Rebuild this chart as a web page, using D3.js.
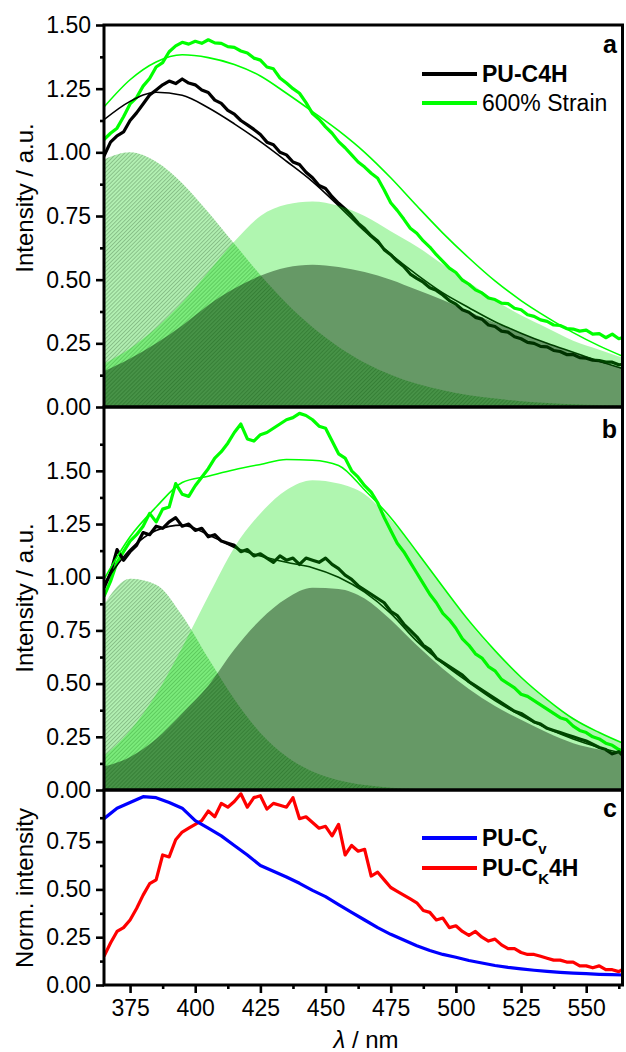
<!DOCTYPE html>
<meta charset="utf-8">
<style>
  body { margin: 0; background: #fff; }
  svg { display: block; font-family: "Liberation Sans", Arial, sans-serif; }
</style>
<svg id="chart" width="626" height="1052"></svg>
<script src="https://cdn.jsdelivr.net/npm/d3@7/dist/d3.min.js"></script>
<script>
// sampling grids (nm)
var fitWl = d3.range(365, 565.1, 10);
var rawWl = d3.range(365, 565.1, 2.5);
var blueWl = d3.range(365, 565.1, 5);

// panel a: fitted peaks and fits (10 nm grid)
var aPeakUV = [0.972, 1.0, 0.963, 0.879, 0.765, 0.641, 0.518, 0.407, 0.313, 0.236, 0.174, 0.127, 0.091, 0.066, 0.046, 0.033, 0.023, 0.016, 0.011, 0.008, 0.005];
var aPeakStrain = [0.17, 0.23, 0.31, 0.41, 0.53, 0.65, 0.75, 0.795, 0.807, 0.79, 0.75, 0.69, 0.63, 0.56, 0.49, 0.42, 0.36, 0.31, 0.26, 0.225, 0.19];
var aPeakRelax = [0.14, 0.19, 0.25, 0.32, 0.40, 0.465, 0.515, 0.548, 0.559, 0.55, 0.53, 0.50, 0.46, 0.42, 0.375, 0.33, 0.29, 0.25, 0.213, 0.18, 0.148];
var aFitBlack = [1.128, 1.20, 1.236, 1.224, 1.175, 1.112, 1.042, 0.965, 0.885, 0.79, 0.69, 0.60, 0.52, 0.448, 0.39, 0.335, 0.29, 0.25, 0.215, 0.18, 0.148];
var aFitGreen = [1.178, 1.285, 1.355, 1.383, 1.372, 1.345, 1.30, 1.232, 1.16, 1.085, 1.0, 0.90, 0.79, 0.683, 0.585, 0.495, 0.418, 0.352, 0.292, 0.24, 0.195];

// panel a: measured spectra (2.5 nm grid)
var aBlack = [0.985, 1.04, 1.065, 1.08, 1.125, 1.155, 1.19, 1.225, 1.245, 1.265, 1.28, 1.27, 1.288, 1.272, 1.265, 1.245, 1.235, 1.205, 1.192, 1.165,
  1.15, 1.125, 1.108, 1.09, 1.07, 1.04, 1.03, 1.0, 0.99, 0.962, 0.952, 0.922, 0.9, 0.87, 0.858, 0.826, 0.8, 0.778, 0.752, 0.722,
  0.7, 0.672, 0.652, 0.618, 0.598, 0.572, 0.552, 0.522, 0.505, 0.49, 0.468, 0.458, 0.44, 0.418, 0.404, 0.382, 0.372, 0.352, 0.345, 0.322,
  0.316, 0.298, 0.294, 0.276, 0.268, 0.254, 0.25, 0.238, 0.236, 0.222, 0.218, 0.206, 0.206, 0.194, 0.192, 0.184, 0.182, 0.176, 0.176, 0.166, 0.168];
var aGreen = [1.05, 1.075, 1.095, 1.14, 1.19, 1.215, 1.26, 1.29, 1.335, 1.352, 1.395, 1.418, 1.432, 1.425, 1.436, 1.428, 1.442, 1.43, 1.428, 1.415,
  1.412, 1.398, 1.39, 1.37, 1.362, 1.335, 1.328, 1.292, 1.272, 1.25, 1.232, 1.195, 1.152, 1.13, 1.1, 1.075, 1.042, 1.018, 0.99, 0.962,
  0.942, 0.918, 0.898, 0.852, 0.802, 0.772, 0.738, 0.702, 0.682, 0.652, 0.628, 0.598, 0.572, 0.545, 0.528, 0.498, 0.482, 0.46, 0.448, 0.428,
  0.422, 0.408, 0.406, 0.388, 0.382, 0.362, 0.356, 0.342, 0.336, 0.322, 0.32, 0.308, 0.306, 0.298, 0.302, 0.286, 0.288, 0.272, 0.286, 0.268, 0.276];

// panel b: fitted peaks and fits (10 nm grid)
var bPeakUV = [0.872, 0.993, 0.965, 0.82, 0.619, 0.426, 0.268, 0.157, 0.087, 0.046, 0.023, 0.011, 0.005, 0.002, 0.001, 0, 0, 0, 0, 0, 0];
var bPeakStrain = [0.16, 0.28, 0.45, 0.67, 0.91, 1.14, 1.30, 1.41, 1.456, 1.44, 1.39, 1.27, 1.12, 0.955, 0.79, 0.65, 0.53, 0.42, 0.34, 0.27, 0.215];
var bPeakRelax = [0.11, 0.155, 0.24, 0.36, 0.49, 0.66, 0.80, 0.90, 0.95, 0.945, 0.90, 0.80, 0.68, 0.57, 0.475, 0.395, 0.33, 0.27, 0.22, 0.19, 0.165];
var bFitBlack = [0.97, 1.13, 1.22, 1.245, 1.20, 1.14, 1.10, 1.07, 1.045, 1.00, 0.93, 0.83, 0.70, 0.595, 0.505, 0.42, 0.35, 0.29, 0.24, 0.20, 0.17];
var bFitGreen = [0.99, 1.19, 1.33, 1.445, 1.475, 1.505, 1.53, 1.553, 1.55, 1.525, 1.41, 1.28, 1.12, 0.955, 0.795, 0.655, 0.53, 0.425, 0.335, 0.27, 0.215];

// panel b: measured spectra (2.5 nm grid)
var bBlack = [0.95, 1.02, 1.13, 1.08, 1.12, 1.15, 1.21, 1.20, 1.24, 1.23, 1.26, 1.28, 1.24, 1.25, 1.22, 1.23, 1.19, 1.20, 1.17, 1.16,
  1.15, 1.12, 1.13, 1.10, 1.11, 1.09, 1.07, 1.10, 1.08, 1.09, 1.06, 1.09, 1.08, 1.07, 1.09, 1.06, 1.04, 1.01, 0.99, 0.96,
  0.94, 0.92, 0.90, 0.88, 0.84, 0.82, 0.78, 0.75, 0.72, 0.68, 0.66, 0.62, 0.60, 0.58, 0.56, 0.54, 0.51, 0.49, 0.47, 0.45,
  0.43, 0.41, 0.39, 0.37, 0.36, 0.34, 0.32, 0.31, 0.29, 0.28, 0.27, 0.26, 0.25, 0.24, 0.23, 0.215, 0.20, 0.19, 0.17, 0.18, 0.15];
var bGreen = [0.91, 0.98, 1.07, 1.12, 1.17, 1.20, 1.24, 1.30, 1.26, 1.32, 1.33, 1.44, 1.39, 1.38, 1.43, 1.47, 1.51, 1.56, 1.59, 1.63,
  1.68, 1.72, 1.65, 1.64, 1.67, 1.68, 1.70, 1.72, 1.74, 1.75, 1.77, 1.76, 1.74, 1.71, 1.70, 1.64, 1.58, 1.56, 1.50, 1.47,
  1.43, 1.40, 1.35, 1.28, 1.22, 1.16, 1.12, 1.07, 1.02, 0.97, 0.92, 0.88, 0.83, 0.80, 0.76, 0.71, 0.68, 0.64, 0.62, 0.58,
  0.56, 0.52, 0.50, 0.48, 0.45, 0.44, 0.42, 0.40, 0.38, 0.36, 0.34, 0.33, 0.30, 0.28, 0.27, 0.25, 0.24, 0.22, 0.21, 0.19, 0.18];

// panel c: normalised spectra
var cBlue = [0.87, 0.925, 0.955, 0.985, 0.98, 0.955, 0.925, 0.86, 0.82, 0.78, 0.73, 0.68, 0.625, 0.595, 0.565, 0.532, 0.495, 0.462, 0.42, 0.38,
  0.34, 0.30, 0.265, 0.235, 0.205, 0.18, 0.16, 0.145, 0.128, 0.115, 0.102, 0.092, 0.084, 0.077, 0.071, 0.066, 0.062, 0.059, 0.056, 0.054, 0.052];
var cRed = [0.15, 0.22, 0.28, 0.30, 0.34, 0.40, 0.47, 0.53, 0.55, 0.68, 0.67, 0.76, 0.80, 0.82, 0.84, 0.86, 0.91, 0.88, 0.95, 0.93,
  0.96, 1.00, 0.93, 0.98, 0.99, 0.92, 0.95, 0.94, 0.93, 0.98, 0.87, 0.88, 0.85, 0.82, 0.83, 0.78, 0.84, 0.68, 0.73, 0.70,
  0.71, 0.57, 0.59, 0.55, 0.51, 0.49, 0.47, 0.45, 0.43, 0.39, 0.38, 0.34, 0.35, 0.30, 0.31, 0.28, 0.26, 0.28, 0.25, 0.23,
  0.24, 0.21, 0.19, 0.19, 0.17, 0.16, 0.16, 0.15, 0.14, 0.13, 0.13, 0.12, 0.12, 0.10, 0.10, 0.09, 0.10, 0.08, 0.08, 0.07, 0.09];

// axis ticks
var xMajor = [375, 400, 425, 450, 475, 500, 525, 550];
var xMinor = [387.5, 412.5, 437.5, 462.5, 487.5, 512.5, 537.5, 562.5];
var aTicks = [0, 0.25, 0.5, 0.75, 1.0, 1.25, 1.5];
var bTicks = [0, 0.25, 0.5, 0.75, 1.0, 1.25, 1.5];
var cTicks = [0, 0.25, 0.5, 0.75];

var svg = d3.select("#chart");
var left = 104, right = 624;
var x = d3.scaleLinear().domain([365, 564.5]).range([left, right]);

var defs = svg.append("defs");
var pat = defs.append("pattern")
    .attr("id", "hatch")
    .attr("patternUnits", "userSpaceOnUse")
    .attr("width", 2.8).attr("height", 2.8)
    .attr("patternTransform", "rotate(45)");
pat.append("line")
    .attr("x1", 0.5).attr("y1", 0).attr("x2", 0.5).attr("y2", 2.8)
    .attr("stroke", "rgba(40,80,40,0.5)").attr("stroke-width", 0.6);

var LIME = "#00ff00";

function zip(wl, vals) {
    return wl.map((w, i) => [w, vals[i]]);
}

function panel(id, top, bottom, yMax, opts) {
    var y = d3.scaleLinear().domain([0, yMax]).range([bottom, top]);
    defs.append("clipPath").attr("id", "clip-" + id)
        .append("rect").attr("x", left).attr("y", top).attr("width", right - left).attr("height", bottom - top);
    var g = svg.append("g").attr("clip-path", "url(#clip-" + id + ")");

    var line = d3.line().x(d => x(d[0])).y(d => y(d[1]));
    var smooth = d3.line().x(d => x(d[0])).y(d => y(d[1])).curve(d3.curveMonotoneX);
    var area = d3.area().x(d => x(d[0])).y0(y(0)).y1(d => y(d[1])).curve(d3.curveMonotoneX);

    // lines sit under the translucent fills
    (opts.raw || []).forEach(s => {
        g.append("path").datum(zip(s.wl, s.v)).attr("d", line)
            .attr("fill", "none").attr("stroke", s.color).attr("stroke-width", 3.2)
            .attr("stroke-linejoin", "round");
    });
    (opts.fits || []).forEach(s => {
        g.append("path").datum(zip(fitWl, s.v)).attr("d", smooth)
            .attr("fill", "none").attr("stroke", s.color).attr("stroke-width", 1.6);
    });
    if (opts.peaks) {
        var p = opts.peaks;
        g.append("path").datum(zip(fitWl, p.uv)).attr("d", area).attr("fill", "rgba(0,205,0,0.3)");
        g.append("path").datum(zip(fitWl, p.uv)).attr("d", area).attr("fill", "url(#hatch)");
        g.append("path").datum(zip(fitWl, p.strain)).attr("d", area).attr("fill", "rgba(0,225,0,0.31)");
        g.append("path").datum(zip(fitWl, p.relax)).attr("d", area).attr("fill", "rgba(0,25,0,0.42)");
    }

    // y axis: major and minor ticks
    var minor = [];
    for (var t = 0.125; t < yMax - 0.1; t += 0.25) minor.push(t);
    var ay = svg.append("g").attr("transform", "translate(" + left + ",0)")
        .call(d3.axisLeft(y).tickValues(opts.ticks).tickSize(8).tickPadding(5).tickFormat(d3.format(".2f")));
    ay.append("g").call(d3.axisLeft(y).tickValues(minor).tickSize(4).tickFormat(""));
    ay.selectAll(".domain").remove();
    ay.selectAll("line").attr("stroke", "#000").attr("stroke-width", 2.6);
    ay.selectAll("text").attr("fill", "#000").style("font-size", "23px").style("font-family", "'Liberation Sans', Arial, sans-serif");

    svg.append("rect").attr("x", left).attr("y", top).attr("width", right - left - 1.5).attr("height", bottom - top)
        .attr("fill", "none").attr("stroke", "#000").attr("stroke-width", 3);

    svg.append("text").attr("x", 617).attr("y", opts.letterY).attr("text-anchor", "end")
        .style("font-size", "25px").style("font-weight", "bold").text(opts.letter);

    svg.append("text").attr("transform", "translate(33," + opts.titleY + ") rotate(-90)")
        .attr("text-anchor", "middle").style("font-size", "24px").text(opts.title);
    return y;
}

panel("a", 25, 407, 1.5, {
    ticks: aTicks, letter: "a", letterY: 53, title: "Intensity / a.u.", titleY: 198,
    raw: [{ wl: rawWl, v: aGreen, color: LIME }, { wl: rawWl, v: aBlack, color: "#000" }],
    fits: [{ v: aFitGreen, color: LIME }, { v: aFitBlack, color: "#000" }],
    peaks: { uv: aPeakUV, strain: aPeakStrain, relax: aPeakRelax }
});

panel("b", 407, 790, 1.8, {
    ticks: bTicks, letter: "b", letterY: 438, title: "Intensity / a.u.", titleY: 598,
    raw: [{ wl: rawWl, v: bGreen, color: LIME }, { wl: rawWl, v: bBlack, color: "#000" }],
    fits: [{ v: bFitGreen, color: LIME }, { v: bFitBlack, color: "#000" }],
    peaks: { uv: bPeakUV, strain: bPeakStrain, relax: bPeakRelax }
});

panel("c", 790, 985, 1.02, {
    ticks: cTicks, letter: "c", letterY: 817, title: "Norm. intensity", titleY: 888,
    raw: [{ wl: rawWl, v: cRed, color: "#ff0000" }, { wl: blueWl, v: cBlue, color: "#0000ff" }]
});

// x axis at bottom of panel c
var ax = svg.append("g").attr("transform", "translate(0,985)")
    .call(d3.axisBottom(x).tickValues(xMajor).tickSize(8).tickPadding(7).tickFormat(d3.format("d")));
ax.append("g").call(d3.axisBottom(x).tickValues(xMinor).tickSize(4).tickFormat(""));
ax.selectAll(".domain").remove();
ax.selectAll("line").attr("stroke", "#000").attr("stroke-width", 2.6);
ax.selectAll("text").attr("fill", "#000").style("font-size", "23px").style("font-family", "'Liberation Sans', Arial, sans-serif");

var xt = svg.append("text").attr("x", 366).attr("y", 1048).attr("text-anchor", "middle").style("font-size", "24px");
xt.append("tspan").style("font-style", "italic").text("λ");
xt.append("tspan").text(" / nm");

// legends
function legendRow(y, color, build) {
    svg.append("line").attr("x1", 422).attr("x2", 477).attr("y1", y).attr("y2", y)
        .attr("stroke", color).attr("stroke-width", 4);
    var t = svg.append("text").attr("x", 482).attr("y", y + 8).style("font-size", "23px");
    build(t);
}
legendRow(74, "#000", t => t.style("font-weight", "bold").text("PU-C4H"));
legendRow(103, LIME, t => t.text("600% Strain"));
legendRow(838, "#0000ff", t => {
    t.style("font-weight", "bold");
    t.append("tspan").text("PU-C");
    t.append("tspan").attr("dy", 8).style("font-size", "15px").text("v");
});
legendRow(868, "#ff0000", t => {
    t.style("font-weight", "bold");
    t.append("tspan").text("PU-C");
    t.append("tspan").attr("dy", 8).style("font-size", "15px").text("K");
    t.append("tspan").attr("dy", -8).text("4H");
});
</script>
